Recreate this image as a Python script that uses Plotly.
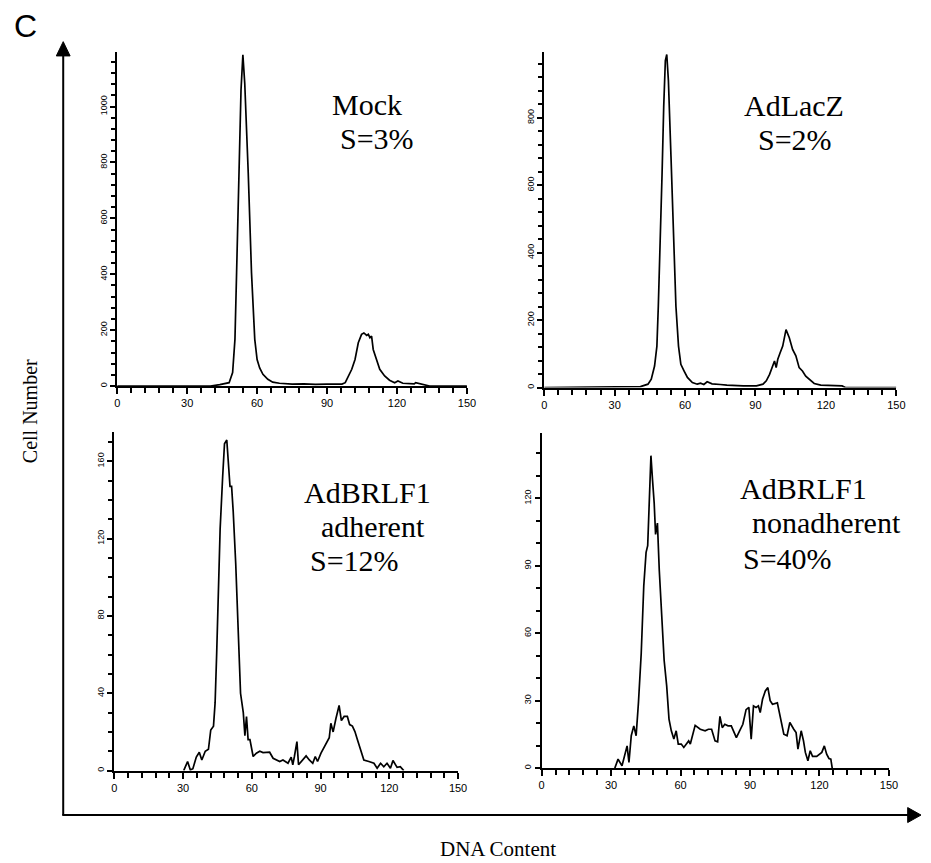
import plotly.graph_objects as go

W, H = 931, 863

# ---------------- data ----------------
x_ticks = [0, 30, 60, 90, 120, 150]

mock_x = [0, 40, 44, 48, 49.5, 50.5, 51.2, 52.2, 53.1, 53.9, 54.7, 56.2, 57.6, 59, 60, 61.1, 62.5, 64.6,
          66.7, 69.6, 75, 80, 85, 90, 96.4, 97.8, 99.2, 100.6, 102, 103.4, 104.8, 105.8, 107, 107.7,
          108.4, 109.1, 109.8, 111.2, 112.6, 114.7, 116.8, 119, 120.4, 122.5, 127.4, 128, 133, 134, 150]
mock_y = [0, 0, 5, 12, 48, 167, 405, 762, 1060, 1185, 1083, 762, 405, 167, 95, 65, 42, 24,
          14, 10, 7, 8, 6, 7, 7, 12, 36, 60, 95, 155, 185, 190, 181, 185,
          173, 179, 131, 95, 60, 36, 21, 12, 18, 10, 8, 12, 4, 0, 0]

lacz_x = [0, 41, 44.2, 45.6, 47, 48, 48.6, 49.5, 50.2, 50.9, 51.6, 52.2, 52.9, 54, 55.1, 56.1, 57.2,
          58.2, 59.6, 61, 63.1, 65.2, 66.6, 68, 69.4, 71.5, 75, 77.8, 84.8, 90.4, 93.2, 94.6, 96,
          97.4, 98.1, 98.8, 99.5, 100.5, 101.6, 103, 104.4, 105.8, 107.2, 108.6, 110, 111.4, 113.6,
          115, 117.8, 126.9, 128.3, 150]
lacz_y = [0, 3, 10, 25, 64, 123, 241, 438, 635, 833, 970, 988, 911, 685, 438, 241, 123,
          69, 49, 30, 15, 10, 13, 9, 17, 11, 9, 7, 5, 5, 10, 20, 39,
          64, 79, 59, 84, 103, 123, 172, 148, 113, 94, 59, 49, 34, 20,
          12, 7, 5, 0, 0]

adh_x = [30.3, 32, 33.2, 34.3, 35.8, 37.1, 38.2, 39.7, 41.1, 42.1, 43.3, 44, 44.7, 45.5, 46.2, 47.3,
         48.1, 49.1, 49.8, 50.5, 51.2, 51.9, 53, 54.1, 55.1, 56.3, 57, 57.7, 58.4, 59.2, 59.9, 60.6,
         62, 63.5, 64.9, 67.8, 69.3, 72.2, 73.6, 75.8, 77.2, 77.9, 78.6, 79.7, 80.4, 82.3, 83.7, 85.1,
         86.6, 87.7, 88.7, 90.2, 92.4, 93.8, 94.5, 95.5, 96.7, 98.1, 99.1, 100.3, 101.7, 102.7, 103.9,
         105, 106.1, 107.5, 108.9, 111.1, 113.3, 114.7, 116.2, 117.6, 119, 120.5, 121.6, 123.4, 124.8,
         126.3]
adh_y = [0, 4.7, 0.3, 1, 7, 9.5, 5.5, 10, 11, 21, 23, 35, 61, 95, 125, 152,
         169, 171, 161, 147, 147, 134, 107, 69, 40, 30, 18, 28, 16, 16, 12.4, 7.3,
         9, 10, 9.3, 9.5, 6.4, 4.7, 5.5, 3.8, 7, 3, 7.3, 15, 3, 5.5, 7.6, 5.5,
         3.8, 7.3, 4.7, 9, 14, 17, 24.5, 20, 26.8, 33.7, 25.9, 28, 28, 23.8, 23,
         20.2, 15.9, 10.7, 5.5, 4.7, 3.8, 1.2, 3.8, 2, 3.8, 1.2, 5.2, 1.7, 2,
         0]

non_x = [31.6, 33, 34.7, 35.9, 36.9, 37.7, 38.7, 39.8, 40.8, 41.8, 43, 44.1, 45.1, 45.8, 46.5, 47.2,
         47.9, 48.6, 49.2, 50, 50.8, 51.8, 52.9, 54, 55, 56, 57.1, 58.1, 59, 60.3, 61.4, 62.5, 63.5,
         64.2, 66.3, 68.5, 70.6, 72, 73.4, 74.9, 76, 77, 78, 79.1, 80.5, 81.9, 82.9, 84.1, 85.5, 86.9,
         88.3, 89.5, 90.5, 91.5, 92.6, 93.6, 94.4, 95.4, 96.6, 97.7, 98.7, 99.7, 101.8, 103.2, 104.6,
         106, 107.2, 108.9, 109.9, 110.7, 112.1, 113.1, 113.9, 115, 116, 117, 118.8, 121, 122.1, 123.1,
         124.1, 124.9, 125.5]
non_y = [0, 4, 1, 6.2, 9.9, 2.5, 14.4, 18.8, 14.4, 29, 51, 81, 96, 99, 125, 139,
         128, 118, 104, 109, 88, 66, 48, 36.6, 21.8, 16.6, 12.9, 16.6, 10.7, 10.7, 9.2, 10.7, 12.1,
         10.7, 19, 17.3, 16.6, 17.3, 17.3, 12.1, 11.7, 23, 18, 19.5, 18.8, 18.8, 16.6, 13.6, 16.6, 19.5,
         26, 27, 12.9, 27.7, 27, 27.7, 24.7, 30.6, 34.3, 35.8, 30, 28.4, 29, 22.5, 15.1,
         14.4, 20.3, 17.3, 15.8, 8.4, 16.6, 12.1, 7, 3.3, 7.7, 5.2, 5.2, 7, 9.9, 6.2,
         4.3, 4, 0]

for a, b in [(mock_x, mock_y), (lacz_x, lacz_y), (adh_x, adh_y), (non_x, non_y)]:
    assert len(a) == len(b), (len(a), len(b))

# ---------------- layout helpers ----------------
def px(x):
    return x / W

def py(y):
    return 1 - y / H

panels = [
    # (xs, ys, x-domain px, y-domain px (bottom, top), yrange, ydtick, yminor)
    (mock_x, mock_y, (115.7, 470.0), (386.5, 52.1), 1195, 200, 40),
    (lacz_x, lacz_y, (548.3, 905.0), (388.0, 52.2), 995, 200, 40),
    (adh_x, adh_y, (112.7, 461.0), (771.5, 432.7), 175, 40, 10),
    (non_x, non_y, (545.7, 897.5), (769.0, 433.7), 149, 30, 10),
]

fig = go.Figure()
layout = dict(
    width=W, height=H,
    margin=dict(l=0, r=0, t=0, b=0),
    paper_bgcolor="white", plot_bgcolor="white",
    showlegend=False,
)

tick_font_x = dict(family="Liberation Sans, Arial", size=11, color="black")
tick_font_y = dict(family="Liberation Sans, Arial", size=9, color="black")

for i, (xs, ys, xd, yd, ytop, ydt, ymin) in enumerate(panels, start=1):
    sfx = "" if i == 1 else str(i)
    fig.add_trace(go.Scatter(x=xs, y=ys, mode="lines",
                             line=dict(color="black", width=1.7),
                             xaxis="x" + sfx, yaxis="y" + sfx, hoverinfo="skip"))
    layout["xaxis" + sfx] = dict(
        domain=[px(xd[0]), px(xd[1])], range=[0, 150], anchor="y" + sfx,
        tickmode="array", tickvals=x_ticks, ticktext=[str(v) for v in x_ticks],
        ticks="outside", ticklen=6, tickwidth=1.5, tickcolor="black",
        minor=dict(dtick=6, tick0=0, ticks="outside", ticklen=5, tickwidth=1.5, tickcolor="black"),
        showline=True, linecolor="black", linewidth=2,
        showgrid=False, zeroline=False, tickfont=tick_font_x, fixedrange=True,
    )
    layout["yaxis" + sfx] = dict(
        domain=[py(yd[0]), py(yd[1])], range=[0, ytop], anchor="x" + sfx,
        dtick=ydt, tick0=0, tickangle=-90,
        ticks="outside", ticklen=5, tickwidth=1.5, tickcolor="black",
        minor=dict(dtick=ymin, tick0=0, ticks="outside", ticklen=4, tickwidth=1.5, tickcolor="black"),
        showline=True, linecolor="black", linewidth=2,
        showgrid=False, zeroline=False, tickfont=tick_font_y, fixedrange=True,
    )

# ---------------- text ----------------
serif = "Liberation Serif, Times New Roman, serif"
# (text, centre x px, centre y px)
labels = [
    ("Mock", 369, 105),
    ("S=3%", 379, 139),
    ("AdLacZ", 801, 106),
    ("S=2%", 802, 140),
    ("AdBRLF1", 369, 493),
    ("adherent", 375, 527),
    ("S=12%", 356, 561),
    ("AdBRLF1", 811, 489),
    ("nonadherent", 834, 523),
    ("S=40%", 795, 559),
]
annotations = []
for txt, cx, cy in labels:
    annotations.append(dict(text=txt, x=px(cx), y=py(cy), xref="paper", yref="paper",
                            xanchor="center", yanchor="middle", showarrow=False,
                            font=dict(family=serif, size=30, color="black")))

annotations.append(dict(text="Cell Number", x=px(27), y=py(412), xref="paper", yref="paper",
                        xanchor="center", yanchor="middle", showarrow=False, textangle=-90,
                        font=dict(family=serif, size=20, color="black")))
annotations.append(dict(text="DNA Content", x=px(501), y=py(850), xref="paper", yref="paper",
                        xanchor="center", yanchor="middle", showarrow=False,
                        font=dict(family=serif, size=21, color="black")))
annotations.append(dict(text="C", x=px(22.5), y=py(26.5), xref="paper", yref="paper",
                        xanchor="center", yanchor="middle", showarrow=False,
                        font=dict(family="Liberation Sans, Arial", size=32, color="black")))
layout["annotations"] = annotations

# ---------------- outer arrows (decoration) ----------------
shapes = [
    dict(type="line", xref="paper", yref="paper", x0=px(61), y0=py(816), x1=px(61), y1=py(55),
         line=dict(color="black", width=2)),
    dict(type="line", xref="paper", yref="paper", x0=px(60), y0=py(816), x1=px(918), y1=py(816),
         line=dict(color="black", width=2)),
    dict(type="path", xref="paper", yref="paper",
         path=f"M {px(61)} {py(41.7)} L {px(54)} {py(56)} L {px(68)} {py(56)} Z",
         fillcolor="black", line=dict(color="black", width=1)),
    dict(type="path", xref="paper", yref="paper",
         path=f"M {px(930)} {py(816)} L {px(916.5)} {py(808.5)} L {px(916.5)} {py(823.5)} Z",
         fillcolor="black", line=dict(color="black", width=1)),
]
layout["shapes"] = shapes

fig.update_layout(**layout)
fig.write_html("out.html", config={"displayModeBar": False},
               post_script="document.body.style.margin='0px';document.body.style.overflow='hidden';")
